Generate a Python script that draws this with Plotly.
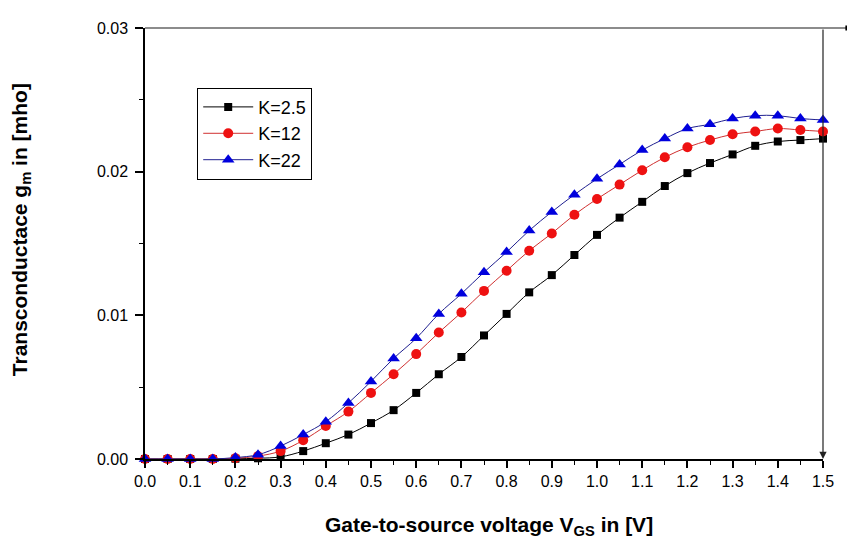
import plotly.graph_objects as go

vgs = [round(0.05 * i, 2) for i in range(31)]

gm_k25 = [0, 0, 0, 0, 0.00002, 0.00005, 0.00015, 0.00055, 0.0011, 0.0017,
          0.0025, 0.0034, 0.0046, 0.0059, 0.0071, 0.0086, 0.0101, 0.0116, 0.0128, 0.0142,
          0.0156, 0.0168, 0.0179, 0.0190, 0.0199, 0.0206, 0.0212, 0.0218, 0.0221, 0.0222, 0.0223]
gm_k12 = [0, 0, 0, 0, 0.00005, 0.0002, 0.00055, 0.0013, 0.0023, 0.0033,
          0.0046, 0.0059, 0.0073, 0.0088, 0.0102, 0.0117, 0.0131, 0.0145, 0.0157, 0.0170,
          0.0181, 0.0191, 0.0201, 0.0210, 0.0217, 0.0222, 0.0226, 0.0228, 0.0230, 0.0229, 0.0228]
gm_k22 = [0, 0, 0, 0, 0.0001, 0.0003, 0.0009, 0.0017, 0.0026, 0.0039,
          0.0054, 0.0070, 0.0084, 0.0101, 0.0115, 0.0130, 0.0144, 0.0159, 0.0172, 0.0184,
          0.0195, 0.0205, 0.0215, 0.0223, 0.0230, 0.0233, 0.0237, 0.0239, 0.0239, 0.0237, 0.0236]

x_ticks = [round(0.1 * i, 1) for i in range(16)]
y_ticks = [0, 0.01, 0.02, 0.03]

fig = go.Figure()
fig.add_trace(go.Scatter(x=vgs, y=gm_k25, name="K=2.5", mode="lines+markers",
                         line=dict(color="black", width=1, shape="spline"),
                         marker=dict(symbol="square", size=8, color="black"), cliponaxis=False))
fig.add_trace(go.Scatter(x=vgs, y=gm_k12, name="K=12", mode="lines+markers",
                         line=dict(color="#d03030", width=1, shape="spline"),
                         marker=dict(symbol="circle", size=10, color="#ee1111"), cliponaxis=False))
fig.add_trace(go.Scatter(x=vgs, y=gm_k22, name="K=22", mode="lines+markers",
                         line=dict(color="#202090", width=1, shape="spline"),
                         marker=dict(symbol="triangle-up", size=11, color="#0000dd"), cliponaxis=False))

font_family = "Liberation Sans, Arial, sans-serif"

# page body has an 8px margin, so the figure is 8px smaller and margins shifted
fig.update_layout(
    width=847, height=532,
    margin=dict(l=137, r=32, t=16, b=81),
    paper_bgcolor="white", plot_bgcolor="white",
    font=dict(family=font_family, color="black"),
    showlegend=True,
    legend=dict(x=0.077, y=0.8615, xanchor="left", yanchor="top",
                bordercolor="black", borderwidth=1, bgcolor="white",
                font=dict(size=18, family=font_family), itemwidth=50,
                tracegroupgap=0),
    xaxis=dict(range=[0, 1.5], tickvals=x_ticks, tickformat=".1f",
               showline=True, linecolor="black", linewidth=1.5, mirror=False,
               ticks="outside", ticklen=7, tickwidth=1.5, tickcolor="black",
               minor=dict(dtick=0.05, ticks="outside", ticklen=4, tickwidth=1.2, tickcolor="black"),
               showgrid=False, zeroline=False, tickfont=dict(size=16)),
    yaxis=dict(range=[0, 0.03], tickvals=y_ticks, tickformat=".2f",
               showline=True, linecolor="black", linewidth=1.5, mirror=False,
               ticks="outside", ticklen=8, tickwidth=1.5, tickcolor="black",
               minor=dict(dtick=0.005, ticks="outside", ticklen=4, tickwidth=1.2, tickcolor="black"),
               showgrid=False, zeroline=False, tickfont=dict(size=16), ticklabelstandoff=4),
    shapes=[
        dict(type="line", xref="paper", yref="paper", x0=0, x1=1.037, y0=1, y1=1,
             line=dict(color="#666666", width=1.5)),
        dict(type="rect", xref="paper", yref="paper", x0=1.033, x1=1.041, y0=0.994, y1=1.006,
             fillcolor="black", line=dict(width=0)),
    ],
    annotations=[
        dict(x=1.5, y=0, ax=1.5, ay=0.03, xref="x", yref="y", axref="x", ayref="y",
             showarrow=True, arrowhead=2, arrowsize=1.2, arrowwidth=1.2, arrowcolor="#222222",
             text=""),
        dict(text="<b>Gate-to-source voltage V<sub>GS</sub> in [V]</b>", xref="paper", yref="paper",
             x=0.507, y=-0.155, xanchor="center", yanchor="middle", showarrow=False,
             font=dict(size=21, family=font_family)),
        dict(text="<b>Transconductace g<sub>m</sub> in [mho]</b>", xref="paper", yref="paper",
             x=-0.183, y=0.533, xanchor="center", yanchor="middle", showarrow=False,
             textangle=-90, font=dict(size=21, family=font_family)),
    ],
)

fig.write_html("out.html")
